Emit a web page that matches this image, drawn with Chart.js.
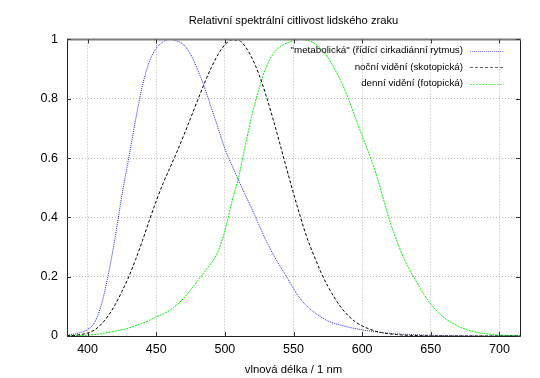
<!DOCTYPE html>
<html>
<head>
<meta charset="utf-8">
<script src="https://cdn.jsdelivr.net/npm/chart.js@4/dist/chart.umd.min.js"></script>
<style>
  html, body { margin: 0; padding: 0; background: #fff; }
  #wrap { width: 540px; height: 378px; }
</style>
</head>
<body>
<div id="wrap"><canvas id="chart" width="540" height="378"></canvas></div>
<script>
const wavelengths = [385, 390, 395, 400, 405, 410, 415, 420, 425, 430, 435, 440, 445, 450, 455, 460, 465, 470, 475, 480,
  485, 490, 495, 500, 505, 510, 515, 520, 525, 530, 535, 540, 545, 550, 555, 560, 565, 570, 575, 580,
  585, 590, 595, 600, 605, 610, 615, 620, 625, 630, 635, 640, 645, 650, 655, 660, 665, 670, 675, 680,
  685, 690, 695, 700, 705, 710, 715];

// "metabolická" (melanopsin)
const melanopic = [0.003, 0.006, 0.012, 0.022, 0.045, 0.105, 0.205, 0.33, 0.475, 0.6, 0.73, 0.845, 0.925, 0.97, 0.992, 1.0, 0.995, 0.982, 0.95, 0.9,
  0.84, 0.772, 0.702, 0.632, 0.577, 0.525, 0.475, 0.425, 0.373, 0.322, 0.277, 0.237, 0.2, 0.16, 0.125, 0.1, 0.08, 0.064, 0.051, 0.042,
  0.036, 0.03, 0.025, 0.021, 0.017, 0.014, 0.011, 0.009, 0.007, 0.006, 0.005, 0.004, 0.003, 0.0025, 0.002, 0.0015, 0.001, 0.001, 0.0005, 0.0005,
  0, 0, 0, 0, 0, 0, 0];

// noční vidění
const scotopic = [0.001, 0.002, 0.005, 0.01, 0.02, 0.04, 0.068, 0.105, 0.15, 0.2, 0.258, 0.322, 0.39, 0.455, 0.515, 0.567, 0.62, 0.676, 0.734, 0.793,
  0.851, 0.904, 0.949, 0.982, 0.998, 0.997, 0.975, 0.935, 0.88, 0.811, 0.733, 0.65, 0.564, 0.481, 0.402, 0.329, 0.27, 0.215, 0.168, 0.128,
  0.094, 0.068, 0.048, 0.034, 0.024, 0.016, 0.011, 0.007, 0.005, 0.003, 0.002, 0.0015, 0.001, 0.0007, 0.0005, 0.0003, 0.0002, 0.0001, 0, 0,
  0, 0, 0, 0, 0, 0, 0];

// denní vidění
const photopic = [0.0005, 0.001, 0.002, 0.003, 0.005, 0.008, 0.012, 0.016, 0.021, 0.027, 0.035, 0.043, 0.053, 0.065, 0.074, 0.087, 0.105, 0.127, 0.155, 0.185,
  0.215, 0.245, 0.285, 0.355, 0.45, 0.535, 0.645, 0.75, 0.835, 0.905, 0.95, 0.975, 0.988, 0.996, 1.0, 0.997, 0.988, 0.968, 0.94, 0.9,
  0.855, 0.8, 0.737, 0.675, 0.615, 0.55, 0.47, 0.39, 0.325, 0.265, 0.22, 0.18, 0.14, 0.108, 0.082, 0.061, 0.045, 0.033, 0.023, 0.016,
  0.011, 0.008, 0.005, 0.003, 0.002, 0.0015, 0.001];

const seriesLabels = [
  '"metabolická" (řídící cirkadiánní rytmus)',
  "noční vidění (skotopická)",
  "denní vidění (fotopická)",
];
const xTicks = [400, 450, 500, 550, 600, 650, 700];

const FONT = "'Liberation Sans', Arial, sans-serif";

(function () {
  const toPoints = (vals) => wavelengths.map((w, i) => ({ x: w, y: vals[i] }));

  const lineStyle = (color, dash) => ({
    borderColor: color,
    borderWidth: 1,
    borderDash: dash,
    pointRadius: 0,
    fill: false,
    cubicInterpolationMode: "monotone",
  });

  // gnuplot-like frame, inward ticks, key in the top right
  const framePlugin = {
    id: "frame",
    afterDraw(chart) {
      const { ctx, chartArea: a, scales } = chart;
      ctx.save();
      ctx.strokeStyle = "#222";
      ctx.lineWidth = 1;
      ctx.setLineDash([]);
      ctx.beginPath();
      ctx.moveTo(a.left + 0.5, a.top);
      ctx.lineTo(a.left + 0.5, a.bottom + 0.5);
      ctx.lineTo(a.right + 0.5, a.bottom + 0.5);
      ctx.lineTo(a.right + 0.5, a.top);
      ctx.stroke();
      ctx.strokeStyle = "#7a7a7a";
      ctx.lineWidth = 2;
      ctx.beginPath();
      ctx.moveTo(a.left, a.top);
      ctx.lineTo(a.right + 1, a.top);
      ctx.stroke();

      ctx.strokeStyle = "#333";
      ctx.lineWidth = 1;
      ctx.beginPath();
      xTicks.forEach((v) => {
        const x = Math.round(scales.x.getPixelForValue(v)) + 0.5;
        ctx.moveTo(x, a.bottom);
        ctx.lineTo(x, a.bottom - 4);
        ctx.moveTo(x, a.top);
        ctx.lineTo(x, a.top + 4);
      });
      scales.y.ticks.forEach((t) => {
        const y = Math.round(scales.y.getPixelForValue(t.value)) + 0.5;
        ctx.moveTo(a.left, y);
        ctx.lineTo(a.left + 4, y);
        ctx.moveTo(a.right, y);
        ctx.lineTo(a.right - 4, y);
      });
      ctx.stroke();

      // key
      const textRight = 463;
      const sampleX0 = 470;
      const sampleX1 = 504;
      const rowY = [50.5, 67, 83.5];
      ctx.font = "9.8px " + FONT;
      ctx.fillStyle = "#000";
      ctx.textAlign = "right";
      ctx.textBaseline = "middle";
      chart.data.datasets.forEach((ds, i) => {
        ctx.fillText(ds.label, textRight, rowY[i]);
        ctx.strokeStyle = ds.borderColor;
        ctx.globalAlpha = 0.6;
        ctx.setLineDash(ds.borderDash);
        ctx.beginPath();
        ctx.moveTo(sampleX0, Math.round(rowY[i]) + 0.5);
        ctx.lineTo(sampleX1, Math.round(rowY[i]) + 0.5);
        ctx.stroke();
        ctx.globalAlpha = 1;
      });
      ctx.restore();
    },
  };

  new Chart(document.getElementById("chart"), {
    type: "line",
    data: {
      datasets: [
        { label: seriesLabels[0], data: toPoints(melanopic), ...lineStyle("#2020ff", [1, 1]) },
        { label: seriesLabels[1], data: toPoints(scotopic), ...lineStyle("#000000", [3, 2]) },
        { label: seriesLabels[2], data: toPoints(photopic), ...lineStyle("#00f000", [2, 1]) },
      ],
    },
    options: {
      responsive: false,
      animation: false,
      layout: { padding: { left: 0, right: 20, top: 0, bottom: 0 } },
      plugins: {
        legend: { display: false },
        tooltip: { enabled: false },
        title: {
          display: true,
          fullSize: false,
          text: "Relativní spektrální citlivost lidského zraku",
          color: "#000",
          font: { family: FONT, size: 11.2, weight: "normal" },
          padding: { top: 14, bottom: 12 },
        },
      },
      scales: {
        x: {
          type: "linear",
          min: 385,
          max: 715,
          afterBuildTicks: (scale) => {
            scale.ticks = xTicks.map((v) => ({ value: v }));
          },
          afterFit: (scale) => {
            scale.height = 42;
          },
          grid: { color: "#b8b8b8", lineWidth: 1, drawTicks: false },
          border: { display: false, dash: [1, 2] },
          ticks: { color: "#000", font: { family: FONT, size: 12.5 }, padding: 6, maxRotation: 0 },
          title: {
            display: true,
            text: "vlnová délka / 1 nm",
            color: "#000",
            font: { family: FONT, size: 11.3 },
            padding: { top: 0, bottom: 1 },
          },
        },
        y: {
          min: 0,
          max: 1,
          afterFit: (scale) => {
            scale.width = 67;
          },
          grid: { color: "#b8b8b8", lineWidth: 1, drawTicks: false },
          border: { display: false, dash: [1, 2] },
          ticks: {
            stepSize: 0.2,
            color: "#000",
            font: { family: FONT, size: 12.5 },
            padding: 9,
            callback: (v) => String(Number(v.toFixed(1))),
          },
        },
      },
    },
    plugins: [framePlugin],
  });
})();
</script>
</body>
</html>
